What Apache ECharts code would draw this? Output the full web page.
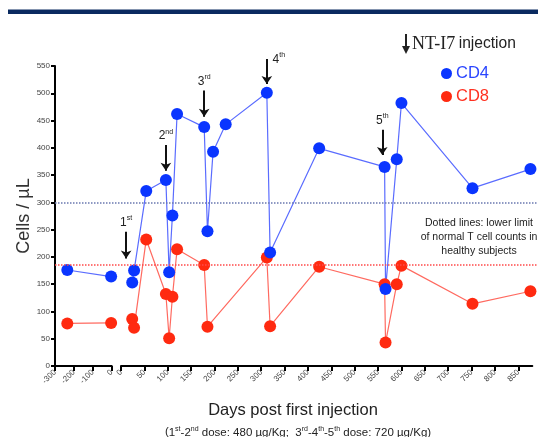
<!DOCTYPE html>
<html><head><meta charset="utf-8">
<script src="https://cdn.jsdelivr.net/npm/echarts@6/dist/echarts.min.js"></script>
<style>html,body{margin:0;padding:0;background:#fff}#c{width:538px;height:437px}</style>
</head><body><div id="c"></div>
<script>
// ---- data ----
const preDays = [-235, -3];
const cd4Pre = [176, 164];
const cd8Pre = [78, 79];
const cd4Days = [24, 28, 54, 96, 103, 110, 120, 178, 185, 197, 224, 312, 319, 424, 564, 566, 590, 600, 752, 876];
const cd4Vals = [153, 175, 321, 341, 172, 276, 462, 438, 247, 393, 443, 501, 208, 399, 365, 141, 379, 482, 326, 361];
const cd8Days = [24, 28, 54, 96, 103, 110, 120, 178, 185, 312, 319, 424, 564, 566, 590, 600, 752, 876];
const cd8Vals = [86, 70, 232, 132, 51, 127, 214, 185, 72, 199, 73, 182, 150, 43, 150, 184, 114, 137];
const preTicks = [-300, -200, -100, 0];
const postTicks = [0, 50, 100, 150, 200, 250, 300, 350, 400, 450, 500, 550, 600, 650, 700, 750, 800, 850];
const cd4Limit = 300;
const cd8Limit = 185;
const injDays = [11, 96, 178, 312, 559];
const injFrom = [246, 405, 505, 563, 433];
const injTo = [197, 358, 457, 517, 387];
const injOrd = ['1', '2', '3', '4', '5'];
const injSup = ['st', 'nd', 'rd', 'th', 'th'];

// ---- style ----
const SANS = "'Liberation Sans', Arial, sans-serif";
const SERIF = "'Liberation Serif', 'Times New Roman', serif";
const BLUE = '#0a35ff', BLUE_LINE = '#5a6cff';
const RED = '#ff2a10', RED_LINE = '#ff6a60';
const pairs = (xs, ys) => xs.map((x, i) => [x, ys[i]]);

const Y_MAX = 550, PLOT_TOP = 66, PLOT_H = 300, EXTRA_TOP = 30;
const Y_MAX_EXT = Y_MAX * (PLOT_H + EXTRA_TOP) / PLOT_H; // same scale, taller overlay grid

const axisLineStyle = {color: '#000', width: 2};
const xLabel = {rotate: 45, fontSize: 8, color: '#444', margin: 5, fontFamily: SANS};

const supRich = {
  n: {fontSize: 12, lineHeight: 14, color: '#222', fontFamily: SANS, verticalAlign: 'bottom'},
  s: {fontSize: 7, lineHeight: 8, color: '#222', fontFamily: SANS, verticalAlign: 'top'},
  g: {width: 24}
};

const injData = injDays.map((d, i) => {
  const start = {coord: [d, injFrom[i]]};
  if (i === 3) {
    start.label = {distance: -7, formatter: '{g|}{n|' + injOrd[i] + '}{s|' + injSup[i] + '}'};
  }
  return [start, {coord: [d, injTo[i]]}];
});

const lineSeries = (name, gi, data, color, lcolor) => ({
  name, type: 'line', xAxisIndex: gi, yAxisIndex: gi, data,
  symbol: 'circle', symbolSize: 12, z: 3,
  itemStyle: {color}, lineStyle: {color: lcolor, width: 1.2},
  emphasis: {disabled: true}
});

const chart = echarts.init(document.getElementById('c'), null, {renderer: 'canvas'});
chart.setOption({
  animation: false,
  backgroundColor: '#fff',
  grid: [
    {left: 55, top: PLOT_TOP, width: 56.7, height: PLOT_H},
    {left: 121, top: PLOT_TOP, width: 411.3, height: PLOT_H},
    {left: 55, top: PLOT_TOP, width: 483, height: PLOT_H},
    {left: 121, top: PLOT_TOP - EXTRA_TOP, width: 411.3, height: PLOT_H + EXTRA_TOP}
  ],
  xAxis: [
    {gridIndex: 0, type: 'value', min: -300, max: 0, interval: 100,
     axisLine: {show: true, lineStyle: axisLineStyle},
     axisTick: {show: true, length: 5, lineStyle: axisLineStyle},
     axisLabel: xLabel, splitLine: {show: false}},
    {gridIndex: 1, type: 'value', min: 0, max: 880,
     axisLine: {show: true, lineStyle: axisLineStyle},
     axisTick: {show: true, length: 5, lineStyle: axisLineStyle, customValues: postTicks},
     axisLabel: Object.assign({customValues: postTicks}, xLabel), splitLine: {show: false}},
    {gridIndex: 2, type: 'value', min: 0, max: 1, show: false},
    {gridIndex: 3, type: 'value', min: 0, max: 880, show: false}
  ],
  yAxis: [
    {gridIndex: 0, type: 'value', min: 0, max: Y_MAX, interval: 50,
     axisLine: {show: true, onZero: false, lineStyle: axisLineStyle},
     axisTick: {show: true, length: 4, lineStyle: axisLineStyle},
     axisLabel: {fontSize: 8, color: '#444', margin: 5, fontFamily: SANS},
     splitLine: {show: false},
     name: 'Cells / µL', nameLocation: 'middle', nameGap: 18,
     nameTextStyle: {fontSize: 18, color: '#333', fontFamily: SANS}},
    {gridIndex: 1, type: 'value', min: 0, max: Y_MAX, show: false},
    {gridIndex: 2, type: 'value', min: 0, max: Y_MAX, show: false},
    {gridIndex: 3, type: 'value', min: 0, max: Y_MAX_EXT, show: false}
  ],
  legend: {
    orient: 'vertical', left: 436, top: 60, itemWidth: 11, itemHeight: 11, itemGap: 6,
    icon: 'circle', selectedMode: false,
    data: [
      {name: 'CD4', textStyle: {color: '#2a45ff'}},
      {name: 'CD8', textStyle: {color: '#ff3020'}}
    ],
    textStyle: {fontSize: 16.5, fontFamily: SANS, padding: [0, 0, 0, -1]}
  },
  series: [
    {type: 'line', xAxisIndex: 2, yAxisIndex: 2, data: [], z: 1, silent: true,
     markLine: {silent: true, symbol: 'none', label: {show: false},
       data: [
         {yAxis: cd4Limit, lineStyle: {color: '#6a78b0', type: 'dotted', width: 1.5}},
         {yAxis: cd8Limit, lineStyle: {color: '#ff4a4a', type: 'dotted', width: 1.5}}
       ]}},
    lineSeries('CD4', 0, pairs(preDays, cd4Pre), BLUE, BLUE_LINE),
    lineSeries('CD8', 0, pairs(preDays, cd8Pre), RED, RED_LINE),
    lineSeries('CD8', 1, pairs(cd8Days, cd8Vals), RED, RED_LINE),
    lineSeries('CD4', 1, pairs(cd4Days, cd4Vals), BLUE, BLUE_LINE),
    {type: 'line', xAxisIndex: 3, yAxisIndex: 3, data: [], z: 4, silent: true,
     markLine: {
        silent: true, symbol: ['none', 'arrow'], symbolSize: 8,
        lineStyle: {color: '#111', width: 2, type: 'solid'},
        label: {show: true, position: 'start', distance: 3,
          formatter: p => '{n|' + injOrd[p.dataIndex] + '}{s|' + injSup[p.dataIndex] + '}',
          rich: supRich},
        data: injData
     }}
  ],
  graphic: [
    {type: 'rect', shape: {x: 8, y: 9.5, width: 530, height: 4.5}, style: {fill: '#0a2a60'}, silent: true},
    {type: 'line', shape: {x1: 406, y1: 34, x2: 406, y2: 47}, style: {stroke: '#222', lineWidth: 2}, silent: true},
    {type: 'polygon', shape: {points: [[402, 46], [410, 46], [406, 54]]}, style: {fill: '#222'}, silent: true},
    {type: 'text', x: 412, y: 44, silent: true,
     style: {text: '{a|NT-I7} {b|injection}', verticalAlign: 'middle', textAlign: 'left',
       rich: {a: {fontFamily: SERIF, fontSize: 18, fill: '#222'}, b: {fontFamily: SANS, fontSize: 15.6, fill: '#222'}}}},
    {type: 'text', x: 479, y: 237, silent: true,
     style: {text: 'Dotted lines: lower limit\nof normal T cell counts in\nhealthy subjects',
       textAlign: 'center', verticalAlign: 'middle', fontFamily: SANS, fontSize: 10.5, lineHeight: 14.3, fill: '#222'}},
    {type: 'text', x: 293, y: 410, silent: true,
     style: {text: 'Days post first injection', textAlign: 'center', verticalAlign: 'middle',
       fontFamily: SANS, fontSize: 16.5, fill: '#222'}},
    {type: 'text', x: 298, y: 432, silent: true,
     style: {text: '({n|1}{s|st}{n|-2}{s|nd}{n| dose: 480 µg/Kg;  3}{s|rd}{n|-4}{s|th}{n|-5}{s|th}{n| dose: 720 µg/Kg)}',
       textAlign: 'center', verticalAlign: 'middle', fontFamily: SANS, fontSize: 11.5, fill: '#222',
       rich: {n: {fontFamily: SANS, fontSize: 11.5, lineHeight: 13, fill: '#222', verticalAlign: 'bottom'},
              s: {fontFamily: SANS, fontSize: 7, lineHeight: 7, fill: '#222', verticalAlign: 'top'}}}}
  ]
});
</script>
</body></html>
